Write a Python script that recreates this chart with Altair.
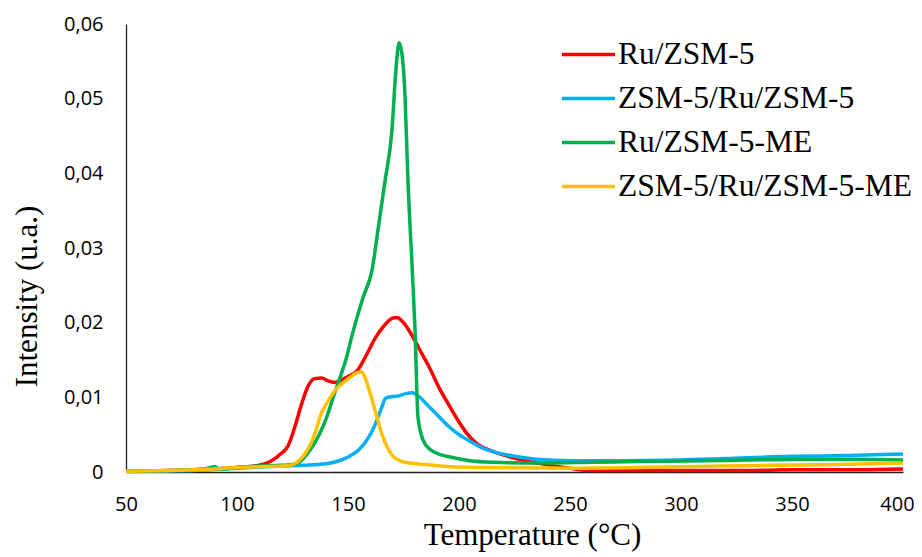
import altair as alt
import pandas as pd

series_names = ["Ru/ZSM-5", "ZSM-5/Ru/ZSM-5", "Ru/ZSM-5-ME", "ZSM-5/Ru/ZSM-5-ME"]
series_colors = ["#FF0000", "#00B0F0", "#00B050", "#FFC000"]

red_T = [50, 70, 90, 100, 110, 115, 120, 123, 126, 129, 132, 135, 138, 141, 144, 147, 150, 154, 158, 162, 166, 170, 172, 175, 179, 183, 187, 191, 196, 200, 204, 208, 214, 222, 230, 241, 250, 260, 300, 330, 350, 380, 400]
red_I = [0.0001, 0.0002, 0.0004, 0.0006, 0.0009, 0.0014, 0.0025, 0.0035, 0.006, 0.009, 0.0115, 0.0125, 0.0126, 0.0122, 0.012, 0.0123, 0.0128, 0.0135, 0.0155, 0.0178, 0.0195, 0.0206, 0.0207, 0.0200, 0.0182, 0.016, 0.0138, 0.0113, 0.0087, 0.0067, 0.0050, 0.0038, 0.0029, 0.0021, 0.0015, 0.0009, 0.0005, 0.0002, 0.0002, 0.0002, 0.0003, 0.0003, 0.0004]

blue_T = [50, 80, 100, 120, 130, 140, 145, 150, 155, 159, 162, 165, 167, 170, 173, 176, 179, 182, 186, 190, 195, 200, 205, 210, 217, 225, 235, 250, 270, 300, 320, 350, 375, 400]
blue_I = [0.0001, 0.0002, 0.0005, 0.0008, 0.0009, 0.0011, 0.0014, 0.002, 0.003, 0.0045, 0.0062, 0.0085, 0.0099, 0.0101, 0.0102, 0.0105, 0.0106, 0.0101, 0.0089, 0.0077, 0.0062, 0.005, 0.0041, 0.0033, 0.0026, 0.0021, 0.0017, 0.0015, 0.0015, 0.0016, 0.0018, 0.0021, 0.0022, 0.0024]

green_T = [50, 70, 85, 90, 92, 100, 110, 120, 125, 128, 131, 134, 137, 140.5, 143, 146, 149, 152, 156.8, 160.8, 163.5, 166.7, 169.8, 171.5, 173, 174.5, 175.7, 177, 178.8, 180.2, 181.5, 183.8, 187, 192, 196, 205, 215, 235, 260, 280, 310, 330, 360, 380, 400]
green_I = [0.0001, 0.0002, 0.0004, 0.0007, 0.0004, 0.0006, 0.0008, 0.0009, 0.001, 0.0013, 0.0022, 0.0034, 0.005, 0.0074, 0.0097, 0.0123, 0.015, 0.0185, 0.0234, 0.027, 0.0324, 0.039, 0.0458, 0.0535, 0.0575, 0.0555, 0.0502, 0.039, 0.028, 0.019, 0.0074, 0.0043, 0.003, 0.0023, 0.002, 0.0015, 0.0013, 0.0012, 0.0013, 0.0014, 0.0015, 0.0016, 0.0017, 0.0017, 0.0016]

yellow_T = [50, 70, 90, 100, 110, 120, 124, 127, 130, 133, 135.5, 137.5, 140, 142, 145, 148, 151, 154, 156, 157.5, 159, 161, 163, 165, 167.5, 170, 173.5, 178, 185, 196, 210, 250, 300, 340, 370, 400]
yellow_I = [0.0001, 0.0002, 0.0004, 0.0006, 0.0007, 0.0008, 0.0009, 0.0013, 0.0022, 0.0036, 0.0055, 0.0075, 0.009, 0.01, 0.0112, 0.012, 0.0127, 0.0133, 0.0134, 0.0128, 0.0115, 0.0095, 0.0074, 0.0053, 0.0034, 0.0022, 0.0015, 0.0012, 0.001, 0.0007, 0.0006, 0.0005, 0.0007, 0.0009, 0.001, 0.0012]

y_ticks = [0, 0.01, 0.02, 0.03, 0.04, 0.05, 0.06]
x_ticks = [50, 100, 150, 200, 250, 300, 350, 400]

SERIF = "'Liberation Serif', 'Times New Roman', Times, 'DejaVu Serif', serif"
SANS = "'Open Sans', 'Liberation Sans', sans-serif"

rows = []
for name, T, I in zip(series_names, [red_T, blue_T, green_T, yellow_T], [red_I, blue_I, green_I, yellow_I]):
    for t, v in zip(T, I):
        rows.append({"series": name, "T": t, "I": v})
df = pd.DataFrame(rows)

chart = alt.Chart(df).mark_line(strokeWidth=3.5, interpolate="monotone").encode(
    x=alt.X("T:Q", scale=alt.Scale(domain=[50, 400], nice=False),
            axis=alt.Axis(values=x_ticks, title="Temperature (°C)", grid=False, ticks=False, tickSize=0,
                          labelFlush=False, labelOverlap=False,
                          labelOffset={"condition": {"test": "datum.value == 400", "value": -6}, "value": 0},
                          labelPadding=22, labelFont=SANS, labelFontSize=20, labelColor="black",
                          domainColor="#222222", domainWidth=1.3,
                          titleFont=SERIF, titleFontSize=31, titleFontWeight="normal",
                          titleColor="black", titleX=406, titleY=72, titleAlign="center",
                          titleBaseline="alphabetic")),
    y=alt.Y("I:Q", scale=alt.Scale(domain=[0, 0.06], nice=False),
            axis=alt.Axis(values=y_ticks, title="Intensity (u.a.)", grid=False, ticks=False, tickSize=0,
                          labelFlush=False, labelOverlap=False,
                          labelPadding=23, labelFont=SANS, labelFontSize=20, labelColor="black",
                          labelExpr="datum.value == 0 ? '0' : replace(format(datum.value, '.2f'), '.', ',')",
                          domainColor="#222222", domainWidth=1.3,
                          titleFont=SERIF, titleFontSize=31, titleFontWeight="normal",
                          titleColor="black", titleX=-99, titleY=272, titleAlign="center",
                          titleBaseline="middle", titleAngle=-90)),
    color=alt.Color("series:N", scale=alt.Scale(domain=series_names, range=series_colors), sort=series_names,
                    legend=alt.Legend(title=None, orient="none", legendX=434, legendY=2,
                                      symbolType="stroke", symbolSize=2809, symbolStrokeWidth=3.5,
                                      labelFont=SERIF, labelFontSize=31.5, labelColor="black",
                                      labelOffset=1, rowPadding=-8, padding=0, labelLimit=400)),
).properties(
    width=777, height=448,
    autosize=alt.AutoSizeParams(type="none"),
    padding={"left": 118, "top": 16, "right": 11, "bottom": 82},
).configure_view(stroke=None)

chart.save("out.html", embed_options={"renderer": "svg", "actions": False})
